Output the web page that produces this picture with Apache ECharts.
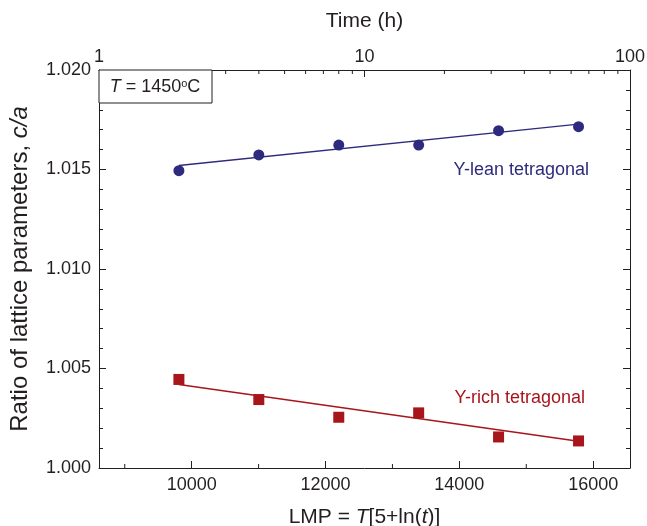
<!DOCTYPE html>
<html>
<head>
<meta charset="utf-8">
<script src="https://cdn.jsdelivr.net/npm/echarts@6/dist/echarts.min.js"></script>
<style>
  html, body { margin: 0; padding: 0; background: #fff; }
  #chart { width: 647px; height: 526px; }
</style>
</head>
<body>
<div id="chart"></div>
<script>
// LMP = T[5+ln(t)], T = 1723 K, t = 2, 4, 8, 16, 32, 64 h
const lmp = [9809, 11003, 12198, 13392, 14586, 15781];
const yLean = [1.01494, 1.01573, 1.01623, 1.01623, 1.01695, 1.01715];
const yRich = [1.00445, 1.00344, 1.00255, 1.00277, 1.00156, 1.00136];
const fitLean = [1.0152, 1.01728];
const fitRich = [1.0042, 1.00134];

const lmpMin = 8615;
const lmpMax = 16550;
const lmpTicks = [10000, 12000, 14000, 16000];
const lmpMinorTicks = [9000, 11000, 13000, 15000];
const timeMinorTicks = [2, 3, 4, 5, 6, 7, 8, 9, 20, 30, 40, 50, 60, 70, 80, 90];
const yMin = 1.0;
const yMax = 1.02;

const ink = "#231f20";
const blue = "#2e2a7e";
const red = "#a8151b";
const font = "Liberation Sans";

const chart = echarts.init(document.getElementById("chart"), null, { renderer: "canvas" });

function minorTickSeries(xAxisIndex, values, yValue, dir) {
  return {
    type: "custom",
    xAxisIndex: xAxisIndex,
    yAxisIndex: 0,
    silent: true,
    clip: false,
    data: values.map(v => [v, yValue]),
    renderItem(params, api) {
      const p = api.coord([api.value(0), api.value(1)]);
      return {
        type: "line",
        shape: { x1: p[0], y1: p[1], x2: p[0], y2: p[1] + dir * 4 },
        style: { stroke: ink, lineWidth: 1 }
      };
    }
  };
}

const axisText = { color: ink, fontSize: 18, fontFamily: font };

chart.setOption({
  animation: false,
  backgroundColor: "#fff",
  grid: { left: 99, right: 17, top: 70, bottom: 58, outerBoundsMode: "none" },
  xAxis: [
    {
      type: "value",
      position: "bottom",
      min: lmpMin,
      max: lmpMax,
      name: "LMP = {i|T}[5+ln({i|t})]",
      nameLocation: "middle",
      nameGap: 39,
      nameTextStyle: {
        color: ink, fontSize: 21, fontFamily: font,
        rich: { i: { fontStyle: "italic", fontSize: 21, fontFamily: font, color: ink } }
      },
      axisLine: { show: true, lineStyle: { color: ink, width: 1 } },
      axisTick: { show: true, inside: true, length: 7, customValues: lmpTicks, lineStyle: { color: ink } },
      axisLabel: Object.assign({ margin: 8, customValues: lmpTicks, formatter: v => String(v) }, axisText),
      splitLine: { show: false }
    },
    {
      type: "log",
      logBase: 10,
      position: "top",
      min: 1,
      max: 100,
      name: "Time (h)",
      nameLocation: "middle",
      nameGap: 38,
      nameTextStyle: { color: ink, fontSize: 21, fontFamily: font },
      axisLine: { show: true, lineStyle: { color: ink, width: 1 } },
      axisTick: { show: true, inside: true, length: 7, lineStyle: { color: ink } },
      axisLabel: Object.assign({ margin: 4 }, axisText),
      splitLine: { show: false },
      minorTick: { show: false }
    }
  ],
  yAxis: [
    {
      type: "value",
      position: "left",
      min: yMin,
      max: yMax,
      interval: 0.005,
      name: "Ratio of lattice parameters, {i|c/a}",
      nameLocation: "middle",
      nameGap: 67,
      nameTextStyle: {
        color: ink, fontSize: 24, fontFamily: font,
        rich: { i: { fontStyle: "italic", fontSize: 24, fontFamily: font, color: ink } }
      },
      axisLine: { show: true, lineStyle: { color: ink, width: 1 } },
      axisTick: { show: true, inside: true, length: 7, lineStyle: { color: ink } },
      minorTick: { show: true, splitNumber: 5, length: 4, lineStyle: { color: ink } },
      axisLabel: Object.assign({ margin: 8, formatter: v => v.toFixed(3) }, axisText),
      splitLine: { show: false }
    },
    {
      type: "value",
      position: "right",
      min: yMin,
      max: yMax,
      interval: 0.005,
      axisLine: { show: true, lineStyle: { color: ink, width: 1 } },
      axisTick: { show: true, inside: true, length: 7, lineStyle: { color: ink } },
      minorTick: { show: true, splitNumber: 5, length: 4, lineStyle: { color: ink } },
      axisLabel: { show: false },
      splitLine: { show: false }
    }
  ],
  graphic: [
    {
      type: "rect",
      shape: { x: 99, y: 70, width: 113, height: 33 },
      style: { fill: "#fff", stroke: ink, lineWidth: 1 },
      z: 10
    },
    {
      type: "text",
      x: 155,
      y: 87,
      z: 11,
      style: {
        text: "{i|T} = 1450{s|o}C",
        align: "center",
        verticalAlign: "middle",
        fill: ink,
        font: "18px " + font,
        rich: {
          i: { fontStyle: "italic", fontSize: 18, fontFamily: font, fill: ink },
          s: { fontSize: 11, fontFamily: font, fill: ink, verticalAlign: "top", padding: [0, 0, 7, 0] }
        }
      }
    },
    {
      type: "text",
      x: 589,
      y: 170,
      style: { text: "Y-lean tetragonal", align: "right", verticalAlign: "middle", fill: blue, font: "18px " + font }
    },
    {
      type: "text",
      x: 585,
      y: 398,
      style: { text: "Y-rich tetragonal", align: "right", verticalAlign: "middle", fill: red, font: "18px " + font }
    }
  ],
  series: [
    {
      type: "line",
      xAxisIndex: 0,
      yAxisIndex: 0,
      data: [[lmp[0], fitLean[0]], [lmp[lmp.length - 1], fitLean[1]]],
      showSymbol: false,
      lineStyle: { color: blue, width: 1.5 },
      silent: true
    },
    {
      type: "line",
      xAxisIndex: 0,
      yAxisIndex: 0,
      data: [[lmp[0], fitRich[0]], [lmp[lmp.length - 1], fitRich[1]]],
      showSymbol: false,
      lineStyle: { color: red, width: 1.5 },
      silent: true
    },
    {
      type: "scatter",
      xAxisIndex: 0,
      yAxisIndex: 0,
      symbol: "circle",
      symbolSize: 11,
      itemStyle: { color: blue, opacity: 1 },
      data: lmp.map((x, i) => [x, yLean[i]])
    },
    {
      type: "scatter",
      xAxisIndex: 0,
      yAxisIndex: 0,
      symbol: "rect",
      symbolSize: 11,
      itemStyle: { color: red, opacity: 1 },
      data: lmp.map((x, i) => [x, yRich[i]])
    },
    minorTickSeries(0, lmpMinorTicks, yMin, -1),
    minorTickSeries(1, timeMinorTicks, yMax, 1)
  ]
});
</script>
</body>
</html>
